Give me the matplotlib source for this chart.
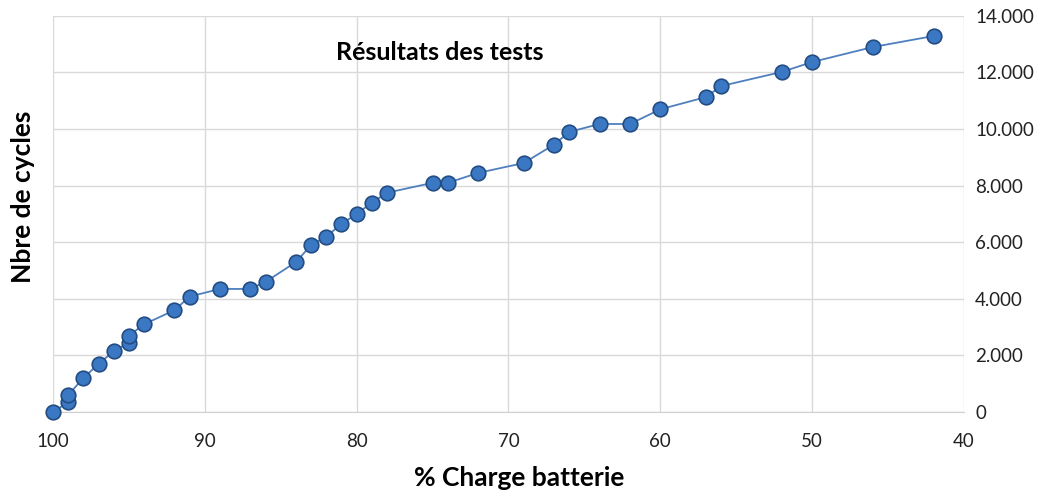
import numpy as np
import matplotlib.pyplot as plt
from matplotlib.ticker import FuncFormatter

plt.rcParams['font.family'] = ['Lato', 'DejaVu Sans']

# % charge batterie / nombre de cycles
charge = [100, 99, 99, 98, 97, 96, 95, 95, 94, 92, 91, 89, 87, 86, 84, 83, 82,
          81, 80, 79, 78, 75, 74, 72, 69, 67, 66, 64, 62, 60, 57, 56, 52, 50, 46, 42]
cycles = [0, 350, 600, 1200, 1700, 2150, 2450, 2700, 3100, 3600, 4080, 4350,
          4350, 4600, 5300, 5900, 6200, 6650, 7000, 7400, 7750, 8100, 8100, 8450,
          8800, 9450, 9900, 10180, 10180, 10700, 11130, 11520, 12020, 12370,
          12900, 13290]

x_ticks = [100, 90, 80, 70, 60, 50, 40]
y_ticks = [0, 2000, 4000, 6000, 8000, 10000, 12000, 14000]

fig = plt.figure(figsize=(10.45, 4.97), dpi=100)
ax = fig.add_axes([0.0507, 0.171, 0.8718, 0.797])

ax.plot(charge, cycles, '-', color='#4f7fbf', lw=1.3, zorder=2, clip_on=False)
ax.plot(charge, cycles, 'o', ms=10.5, mfc='#3b78c4', mec='#234c82', mew=1.2,
        zorder=3, clip_on=False)

ax.set_xlim(100, 40)
ax.set_ylim(0, 14000)
ax.set_xticks(x_ticks)
ax.set_yticks(y_ticks)
ax.yaxis.tick_right()
ax.yaxis.set_major_formatter(FuncFormatter(lambda v, p: f"{int(v):,}".replace(',', '.')))
ax.tick_params(length=0, labelsize=13.5, colors='#222222')
ax.tick_params(axis='x', pad=15)
ax.tick_params(axis='y', pad=8)

ax.grid(True, color='#d9d9d9', lw=1)
ax.set_axisbelow(True)
for s in ['top', 'left', 'right']:
    ax.spines[s].set_visible(False)
ax.spines['bottom'].set_color('#d0d0d0')

fig.text(0.421, 0.895, "Résultats des tests", ha='center', va='center',
         fontsize=18, fontweight='bold')
fig.text(0.497, 0.038, "% Charge batterie", ha='center', va='center',
         fontsize=19, fontweight='bold')
fig.text(0.022, 0.603, "Nbre de cycles", ha='center', va='center',
         rotation=90, fontsize=19, fontweight='bold')

plt.savefig("out.png", dpi=100)
